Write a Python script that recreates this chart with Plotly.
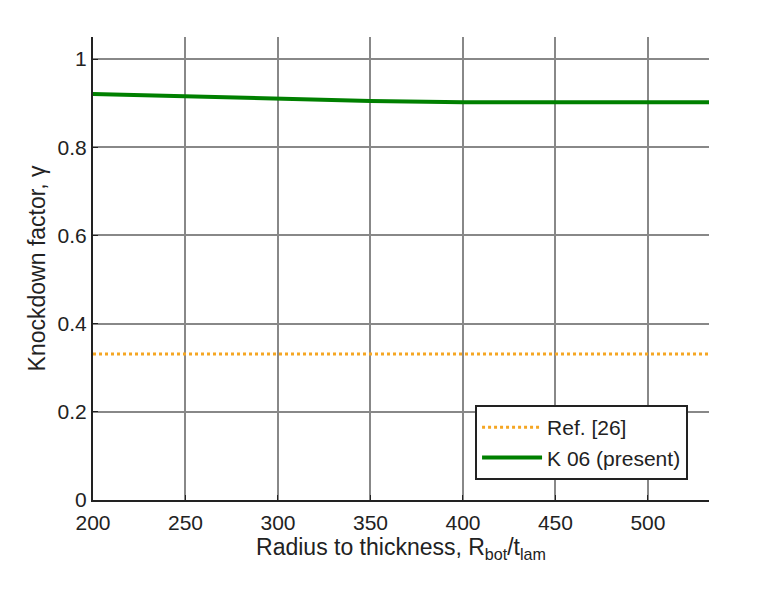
import plotly.graph_objects as go

ratio = [200, 250, 300, 350, 400, 450, 500, 533]
k06 = [0.921, 0.915, 0.909, 0.905, 0.902, 0.902, 0.902, 0.902]
ref_x = [200, 533]
ref_y = [0.331, 0.331]
xticks = [200, 250, 300, 350, 400, 450, 500]
yticks = [0, 0.2, 0.4, 0.6, 0.8, 1]
yticklabels = ["0", "0.2", "0.4", "0.6", "0.8", "1"]

fig = go.Figure()
fig.add_trace(go.Scatter(x=ref_x, y=ref_y, mode="lines", name="Ref. [26]",
                         line=dict(color="#f5a623", width=3, dash="dot")))
fig.add_trace(go.Scatter(x=ratio, y=k06, mode="lines", name="K 06 (present)",
                         line=dict(color="#008000", width=4)))

fig.update_layout(
    width=764, height=598,
    margin=dict(l=93, r=55, t=37, b=98),
    paper_bgcolor="white", plot_bgcolor="white",
    font=dict(family="Liberation Sans, Arial, sans-serif", size=21, color="#222"),
    showlegend=True,
    legend=dict(x=0.966, y=0.043, xanchor="right", yanchor="bottom",
                bordercolor="#222", borderwidth=2, bgcolor="white",
                font=dict(size=21), tracegroupgap=0, itemwidth=60),
)
fig.update_xaxes(range=[200, 533], tickvals=xticks, showgrid=True,
                 gridcolor="#888", gridwidth=1.5, showline=True,
                 linecolor="#222", linewidth=2, ticks="inside", ticklen=5,
                 tickcolor="#222", zeroline=False, ticklabelstandoff=3,
                 tickfont=dict(size=21),
                 title=dict(text="Radius to thickness, R<sub>bot</sub>/t<sub>lam</sub>",
                            font=dict(size=23), standoff=3))
fig.update_yaxes(range=[0, 1.05], tickvals=yticks, ticktext=yticklabels,
                 showgrid=True, gridcolor="#888", gridwidth=1.5, showline=True,
                 linecolor="#222", linewidth=2, ticks="inside", ticklen=5,
                 tickcolor="#222", zeroline=False, tickfont=dict(size=21),
                 title=dict(text="Knockdown factor, γ", font=dict(size=23), standoff=6))

fig.write_html("out.html")
